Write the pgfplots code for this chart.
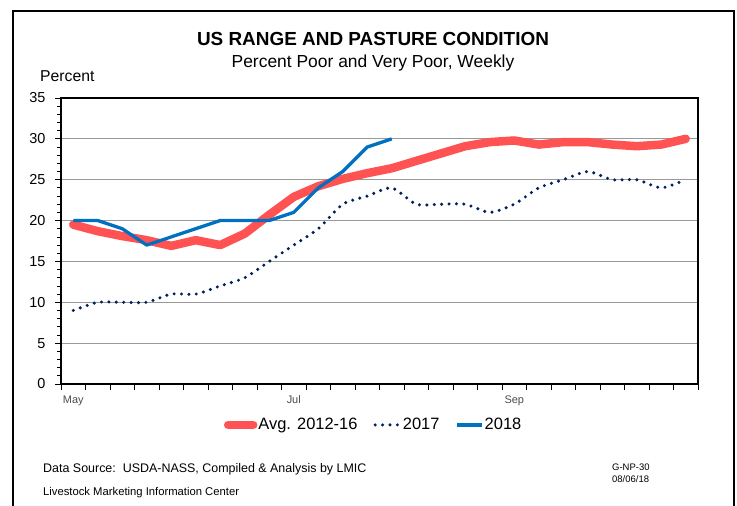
\documentclass[border=0pt]{standalone}
\usepackage{fontspec}
\setmainfont{Liberation Sans}
\usepackage{pgfplots}
\pgfplotsset{compat=1.18}
\definecolor{avgred}{RGB}{255,82,82}
\definecolor{navyS}{RGB}{0,32,96}
\definecolor{blueS}{RGB}{0,112,192}
\newcommand{\fs}[1]{\fontsize{#1}{#1}\selectfont}
\begin{document}
\begin{tikzpicture}[x=1bp,y=1bp]
\path[use as bounding box] (0,0) rectangle (737,506);
\draw[line width=2bp] (12.5,-10) -- (12.5,495) -- (733.5,495) -- (733.5,-10);
\node[inner sep=0pt, anchor=base, font=\bfseries\fs{19}] at (373,460.3) {US RANGE AND PASTURE CONDITION};
\node[inner sep=0pt, anchor=base, font=\fs{17.5}] at (373,438.3) {Percent Poor and Very Poor, Weekly};
\node[inner sep=0pt, anchor=base west, font=\fs{15.8}] at (40,424) {Percent};
\node[inner sep=0pt, anchor=base west, font=\fs{12.5}] at (43,33) {Data Source:\ \ USDA-NASS, Compiled \& Analysis by LMIC};
\node[inner sep=0pt, anchor=base west, font=\fs{11.3}] at (43,10) {Livestock Marketing Information Center};
\node[inner sep=0pt, anchor=base west, font=\fs{9.5}] at (612,35.3) {G-NP-30};
\node[inner sep=0pt, anchor=base west, font=\fs{9.5}] at (612,23.7) {08/06/18};
\begin{axis}[
  at={(61bp,122bp)}, anchor=south west, scale only axis,
  width=637bp, height=286bp,
  xmin=-0.5, xmax=25.5, ymin=0, ymax=35,
  xtick={-0.5,0.5,...,25.5}, xticklabels={},
  extra x ticks={0,9,18}, extra x tick labels={May,Jul,Sep},
  extra x tick style={major tick length=0pt, tick label style={font=\fs{11}, text=black!70, yshift=-8bp}},
  ytick={0,5,...,35}, minor y tick num=4,
  ymajorgrids, grid style={black!40, line width=0.9bp},
  axis line style={line width=1.6bp},
  tick style={black, line width=0.8bp},
  tick align=outside, xtick pos=bottom, ytick pos=left,
  major tick length=6bp, minor tick length=4bp,
  y tick label style={font=\fs{14.5}, xshift=-6bp},
  /pgf/number format/assume math mode=true,
  legend style={at={(0.49,-0.143)}, anchor=center, draw=none, fill=none,
    legend columns=3, font=\fs{16.5}, nodes={inner sep=1bp},
    /tikz/every even column/.append style={column sep=15bp}},
  legend image code/.code={\draw[#1] (0bp,0bp) -- (25bp,0bp);},
]
\addplot[avgred, line width=8.5bp, line cap=round, line join=round] coordinates {
(0,19.5) (1,18.7) (2,18.1) (3,17.6) (4,16.9) (5,17.6) (6,17.0) (7,18.4) (8,20.7) (9,22.9)
(10,24.2) (11,25.1) (12,25.8) (13,26.4) (14,27.3) (15,28.2) (16,29.1) (17,29.6) (18,29.8)
(19,29.3) (20,29.6) (21,29.6) (22,29.3) (23,29.1) (24,29.3) (25,30.0)};
\addlegendentry{Avg. 2012-16}
\addplot[navyS, line width=3.4bp, line cap=round, dash pattern=on 0bp off 7.4bp, smooth, tension=0.4] coordinates {
(0,9) (1,10) (2,10) (3,10) (4,11) (5,11) (6,12) (7,13) (8,15) (9,17)
(10,19) (11,22) (12,23) (13,24) (14,22) (15,22) (16,22) (17,21) (18,22)
(19,24) (20,25) (21,26) (22,25) (23,25) (24,24) (25,25)};
\addlegendentry{2017}
\addplot[blueS, line width=3.3bp, line join=round] coordinates {
(0,20) (1,20) (2,19) (3,17) (4,18) (5,19) (6,20) (7,20) (8,20) (9,21)
(10,24) (11,26) (12,29) (13,30)};
\addlegendentry{2018}
\end{axis}
\end{tikzpicture}
\end{document}
